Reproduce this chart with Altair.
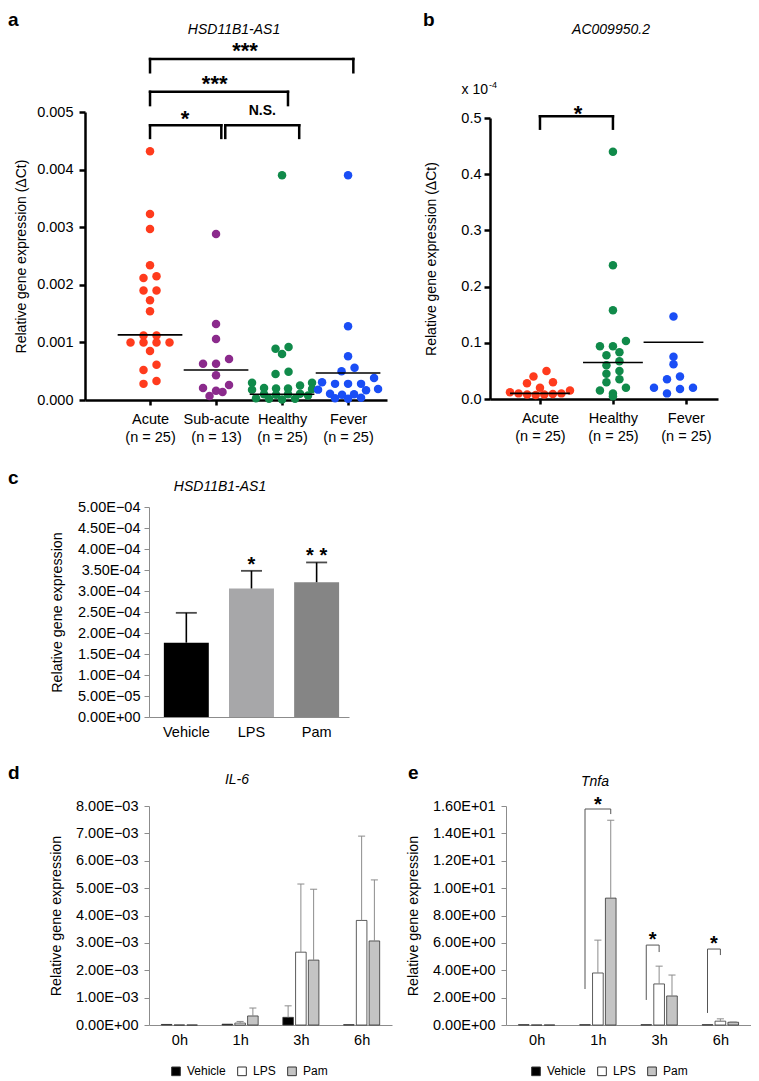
import json
import altair as alt
import pandas as pd

FONT = "Liberation Sans"
GRAY = "#8c8c8c"

# ---------------- data ----------------
# panel a
a_title = "HSD11B1-AS1"
a_groups = ["Acute", "Sub-acute", "Healthy", "Fever"]
a_counts = ["(n = 25)", "(n = 13)", "(n = 25)", "(n = 25)"]
a_colors = ["#ff3b1d", "#8b2a8c", "#108a4a", "#1a4ef5"]
a_columns = [0.0, 1.0, 2.0, 3.0]
a_acute = [0.00432, 0.00323, 0.00297, 0.00234, 0.00215, 0.00212, 0.00190, 0.00190,
           0.00173, 0.00154, 0.00112, 0.00112, 0.00100, 0.00100, 0.00100, 0.00100,
           0.00085, 0.00061, 0.00052, 0.00033, 0.00028]
a_subacute = [0.00288, 0.00132, 0.00106, 0.00071, 0.00063, 0.00063, 0.00043, 0.00026,
              0.00021, 0.00016, 0.00014, 0.00007]
a_healthy = [0.00390, 0.00092, 0.00089, 0.00080, 0.00049, 0.00045, 0.00030, 0.00030,
             0.00025, 0.00021, 0.00020, 0.00019, 0.00020, 0.00018, 0.00011, 0.00010,
             0.00009, 0.00010, 0.00008, 0.00003, 0.00002, 0.00002, 0.00001]
a_fever = [0.00390, 0.00128, 0.00076, 0.00056, 0.00050, 0.00038, 0.00031, 0.00028,
           0.00028, 0.00028, 0.00019, 0.00018, 0.00017, 0.00011, 0.00010, 0.00009,
           0.00004, 0.00003, 0.00002]
a_medians = [0.00113, 0.00052, 0.00010, 0.00047]
a_ticks = [0.0, 0.001, 0.002, 0.003, 0.004, 0.005]
a_br_left = [0.0, 0.0, 0.0, 1.14]
a_br_right = [3.08, 2.09, 1.08, 2.26]
a_br_top = [0.00592, 0.00535, 0.00477, 0.00477]
a_br_drop = [0.00569, 0.00512, 0.00455, 0.00455]
a_br_text = ["***", "***", "*", "N.S."]
a_br_text_x = [1.44, 0.98, 0.53, 1.70]
a_br_text_y = [0.00615, 0.00557, 0.00497, 0.00502]

# panel b (x 10^-4)
b_title = "AC009950.2"
b_groups = ["Acute", "Healthy", "Fever"]
b_counts = ["(n = 25)", "(n = 25)", "(n = 25)"]
b_columns = [0.0, 1.0, 1.83]
b_acute = [0.050, 0.040, 0.030, 0.028, 0.020, 0.015, 0.012, 0.010, 0.010, 0.009,
           0.008, 0.008, 0.007]
b_healthy = [0.440, 0.238, 0.158, 0.103, 0.094, 0.094, 0.083, 0.078, 0.067, 0.060,
             0.050, 0.045, 0.035, 0.030, 0.020, 0.015, 0.010, 0.005]
b_fever = [0.147, 0.075, 0.062, 0.040, 0.035, 0.020, 0.020, 0.018, 0.010]
b_medians = [0.010, 0.065, 0.101]
b_ticks = [0.0, 0.1, 0.2, 0.3, 0.4, 0.5]
b_br_left = [0.0]
b_br_right = [1.0]
b_br_top = [0.503]
b_br_drop = [0.481]
b_br_text = ["*"]
b_br_text_x = [0.52]
b_br_text_y = [0.517]

# panel c
c_title = "HSD11B1-AS1"
c_conditions = ["Vehicle", "LPS", "Pam"]
c_means = [1.77e-4, 3.06e-4, 3.21e-4]
c_sds = [0.71e-4, 0.42e-4, 0.47e-4]
c_colors = ["#000000", "#a7a7a9", "#858585"]
c_stars = ["", "*", "* *"]
c_tick_labels = ["0.00E+00", "5.00E−05", "1.00E−04", "1.50E−04", "2.00E−04", "2.50E−04",
                 "3.00E−04", "3.50E-04", "4.00E−04", "4.50E−04", "5.00E−04"]

# panels d and e
times = ["0h", "1h", "3h", "6h"]
treatments = ["Vehicle", "LPS", "Pam"]
treat_fills = ["#000000", "#ffffff", "#c4c4c4"]

d_title = "IL-6"
d_vehicle = [0.02e-3, 0.03e-3, 0.28e-3, 0.01e-3]
d_lps = [0.0, 0.07e-3, 2.66e-3, 3.82e-3]
d_pam = [0.0, 0.33e-3, 2.37e-3, 3.07e-3]
d_vehicle_sd = [0.0, 0.0, 0.42e-3, 0.0]
d_lps_sd = [0.0, 0.06e-3, 2.49e-3, 3.08e-3]
d_pam_sd = [0.0, 0.29e-3, 2.59e-3, 2.23e-3]
d_tick_labels = ["0.00E+00", "1.00E−03", "2.00E−03", "3.00E−03", "4.00E−03",
                 "5.00E−03", "6.00E−03", "7.00E−03", "8.00E−03"]

e_title = "Tnfa"
e_vehicle = [0.02, 0.02, 0.02, 0.02]
e_lps = [0.0, 3.80, 3.00, 0.28]
e_pam = [0.0, 9.27, 2.12, 0.20]
e_vehicle_sd = [0.0, 0.0, 0.0, 0.0]
e_lps_sd = [0.0, 2.40, 1.30, 0.17]
e_pam_sd = [0.0, 5.69, 1.53, 0.02]
e_tick_labels = ["0.00E+00", "2.00E+00", "4.00E+00", "6.00E+00", "8.00E+00",
                 "1.00E+01", "1.20E+01", "1.40E+01", "1.60E+01"]
e_br_time = [1, 2, 3]
e_br_from = ["Vehicle", "Vehicle", "Vehicle"]
e_br_to = ["Pam", "LPS", "LPS"]
e_br_from_low = [2.63, 1.83, 0.88]
e_br_top = [15.78, 5.84, 5.55]
e_br_to_low = [15.41, 5.33, 5.11]
e_br_star = [16.43, 6.57, 6.28]

# ---------------- helpers ----------------
bold_axis = dict(domainColor="black", domainWidth=2.5, tickColor="black", tickWidth=2.5,
                 labelColor="black", labelFont=FONT, labelFontSize=14.5, titleFont=FONT,
                 titleFontSize=14, titleFontWeight="normal", titleColor="black", grid=False)
thin_axis = dict(domainColor=GRAY, domainWidth=1, tickColor=GRAY, tickWidth=1,
                 labelColor="black", labelFont=FONT, labelFontSize=14.5, titleFont=FONT,
                 titleFontSize=14.3, titleFontWeight="normal", titleColor="black", grid=False,
                 labelOverlap=False)


def swarm(vals, gx, px_per_val, px_per_unit, thresh=6.0, step=13.0, maxw=60.0):
    rows = []
    for v in sorted(vals, reverse=True):
        if rows and (rows[-1][0] - v) * px_per_val <= thresh:
            rows[-1].append(v)
        else:
            rows.append([v])
    out = []
    for row in rows:
        n = len(row)
        sp = step if n < 2 else min(step, maxw / (n - 1))
        slots = sorted([i - (n - 1) / 2 for i in range(n)], key=lambda t: (abs(t), t))
        for v, sl in zip(sorted(row), slots):
            out.append({"x": gx + sl * sp / px_per_unit, "y": v})
    return out


def txt(t, x, y, size, weight="normal", style="normal", align="left", baseline="alphabetic"):
    return alt.Chart(pd.DataFrame({"t": [t]})).mark_text(
        font=FONT, fontSize=size, fontWeight=weight, fontStyle=style, align=align,
        baseline=baseline, color="black").encode(x=alt.value(x), y=alt.value(y), text="t:N")


def segs_from_brackets(lefts, rights, tops, drops_l, drops_r):
    s = []
    for x1, x2, t, d1, d2 in zip(lefts, rights, tops, drops_l, drops_r):
        s.append({"x": x1, "x2": x2, "y": t, "y2": t})
        s.append({"x": x1, "x2": x1, "y": d1, "y2": t})
        s.append({"x": x2, "x2": x2, "y": d2, "y2": t})
    return pd.DataFrame(s)


def dot_panel(groups, counts, columns, series, medians, ymax, ticks, yfmt, W, H, xrange,
              yrange, xdom, ytitle, pads, brackets, letter, letter_xy, title, title_xy,
              extra=None, half=0.49):
    px_unit = (xrange[1] - xrange[0]) / (xdom[1] - xdom[0])
    px_val = (yrange[0] - yrange[1]) / ymax
    pts = []
    for g, gx, vals in zip(groups, columns, series):
        for p in swarm(vals, gx, px_val, px_unit):
            p["group"] = g
            pts.append(p)
    pts = pd.DataFrame(pts)
    lab = (f"[{json.dumps(groups)}[datum.value], {json.dumps(counts)}[datum.value]]")
    X = alt.X("x:Q", scale=alt.Scale(domain=xdom, range=xrange, nice=False, zero=False),
              axis=alt.Axis(values=list(range(len(groups))), labelExpr=lab, title=None,
                            tickSize=5, labelPadding=7, labelLineHeight=18, **bold_axis))
    Y = alt.Y("y:Q", scale=alt.Scale(domain=[0, ymax], range=yrange, nice=False),
              axis=alt.Axis(values=ticks, format=yfmt, title=ytitle, tickSize=6,
                            offset=-xrange[0], labelPadding=pads[0], titlePadding=pads[1],
                            **bold_axis))
    color = alt.Color("group:N", scale=alt.Scale(domain=a_groups, range=a_colors), legend=None)
    points = alt.Chart(pts).mark_circle(size=72, opacity=1).encode(x=X, y=Y, color=color)
    med = pd.DataFrame({"x": [c - half for c in columns],
                        "x2": [c + half for c in columns], "y": medians})
    medl = alt.Chart(med).mark_rule(color="black", strokeWidth=1.6).encode(x=X, x2="x2:Q", y=Y)
    bl, br, bt, bd, btxt, btx, bty = brackets
    seg = segs_from_brackets(bl, br, bt, bd, bd)
    brk = alt.Chart(seg).mark_rule(color="black", strokeWidth=2.5, strokeCap="square").encode(
        x=X, x2="x2:Q", y=Y, y2="y2:Q")
    st = pd.DataFrame({"x": btx, "y": bty, "t": btxt})
    stars = alt.Chart(st).transform_filter("datum.t != 'N.S.'").mark_text(
        font=FONT, fontSize=22, fontWeight="bold", baseline="alphabetic", dy=12.3,
        color="black").encode(x=X, y=Y, text="t:N")
    ns = alt.Chart(st).transform_filter("datum.t == 'N.S.'").mark_text(
        font=FONT, fontSize=14, fontWeight="bold", baseline="middle", color="black").encode(
        x=X, y=Y, text="t:N")
    layers = [points, medl, brk, stars, ns,
              txt(letter, letter_xy[0], letter_xy[1], 19, weight="bold", baseline="top"),
              txt(title, title_xy[0], title_xy[1], 14, style="italic", align="center")]
    if extra:
        layers += extra
    return alt.layer(*layers).properties(width=W, height=H)


# ---------------- panel a ----------------
a_chart = dot_panel(
    a_groups, a_counts, a_columns, [a_acute, a_subacute, a_healthy, a_fever], a_medians, 0.005,
    a_ticks, ".3f", 238, 288, [-64, 238], [288, 0], [-0.985, 3.59],
    "Relative gene expression (ΔCt)", (6, 8),
    (a_br_left, a_br_right, a_br_top, a_br_drop, a_br_text, a_br_text_x, a_br_text_y),
    "a", (-141, -101), a_title, (85, -78))

# ---------------- panel b ----------------
b_extra = [txt("x 10", -18, -18, 14, align="right"), txt("-4", -17, -24, 9, align="left")]
b_chart = dot_panel(
    b_groups, b_counts, b_columns, [b_acute, b_healthy, b_fever], b_medians, 0.5,
    b_ticks, ".1f", 212, 287, [-16, 212], [287, 6], [-0.685, 2.44],
    "Relative gene expression (ΔCt)", (3, 22),
    (b_br_left, b_br_right, b_br_top, b_br_drop, b_br_text, b_br_text_x, b_br_text_y),
    "b", (-83, -101), b_title, (105, -78), extra=b_extra, half=0.41)

# ---------------- panel c ----------------
C_TOP = 18
c_df = pd.DataFrame({"cond": c_conditions, "mean": c_means,
                     "top": [m + s for m, s in zip(c_means, c_sds)],
                     "color": c_colors, "star": c_stars})
c_step = 5e-5
c_lab = f"{json.dumps(c_tick_labels, ensure_ascii=False)}[round(datum.value / {c_step})]"
cX = alt.X("cond:N", sort=c_conditions,
           scale=alt.Scale(paddingInner=0.31, paddingOuter=0.19, align=0.6),
           axis=alt.Axis(title=None, labelAngle=0, ticks=False, tickSize=0, labelPadding=8,
                         **thin_axis))


def cY(f):
    return alt.Y(f"{f}:Q", scale=alt.Scale(domain=[0, 5e-4], range=[210 + C_TOP, C_TOP],
                                           nice=False),
                 axis=alt.Axis(values=[i * c_step for i in range(11)], labelExpr=c_lab,
                               title="Relative gene expression", tickSize=5, labelPadding=4,
                               titlePadding=13, **thin_axis))


c_base = alt.Chart(c_df)
c_bars = c_base.mark_bar().encode(x=cX, y=cY("mean"), fill=alt.Fill("color:N", scale=None))
c_err = c_base.mark_rule(color="black", strokeWidth=1.6).encode(x=cX, y=cY("mean"), y2="top:Q")
c_cap = c_base.mark_tick(color="black", size=21, thickness=1.8).encode(x=cX, y=cY("top"))
c_st = c_base.mark_text(font=FONT, fontSize=20, fontWeight="bold", baseline="alphabetic",
                        dy=0, color="black").encode(x=cX, y=cY("top"), text="star:N")
c_chart = alt.layer(
    c_bars, c_err, c_cap, c_st,
    txt("c", -141, -38 + C_TOP, 19, weight="bold", baseline="top"),
    txt(c_title, 71, -16 + C_TOP, 14, style="italic", align="center"),
).properties(width=200, height=210 + C_TOP)

# ---------------- panels d / e ----------------
OFF = {"Vehicle": -0.21, "LPS": 0.0, "Pam": 0.21}
HALF = 0.087
CAP = 0.058
XSC = alt.Scale(domain=[-0.5, 3.5], nice=False, zero=False)


def grouped_df(means, sds):
    rows = []
    for tr, m_list, s_list in zip(treatments, means, sds):
        for ti, (m, s) in enumerate(zip(m_list, s_list)):
            xc = ti + OFF[tr]
            rows.append({"treatment": tr, "xc": xc, "x": xc - HALF, "x2": xc + HALF,
                         "cl": xc - CAP, "cr": xc + CAP, "mean": m, "zero": 0.0,
                         "top": m + s, "sd": s})
    return pd.DataFrame(rows)


def bar_panel(df, ymax, step, labels, W, H, letter, letter_xy, title, title_xy, legend_x,
              brackets=None):
    lab = f"{json.dumps(labels, ensure_ascii=False)}[round(datum.value / {step})]"
    X = alt.X("x:Q", scale=XSC,
              axis=alt.Axis(values=[0, 1, 2, 3], labelExpr=f"{json.dumps(times)}[datum.value]",
                            title=None, ticks=False, tickSize=0, labelPadding=8, **thin_axis))

    def Y(f):
        return alt.Y(f"{f}:Q", scale=alt.Scale(domain=[0, ymax], nice=False),
                     axis=alt.Axis(values=[i * step for i in range(len(labels))], labelExpr=lab,
                                   title="Relative gene expression", tickSize=5, labelPadding=6,
                                   titlePadding=12, **thin_axis))

    base = alt.Chart(df)
    bars = base.mark_bar(stroke="#333333", strokeWidth=0.8).encode(
        x=X, x2="x2:Q", y=Y("mean"), y2="zero:Q",
        fill=alt.Fill("treatment:N", scale=alt.Scale(domain=treatments, range=treat_fills),
                      legend=alt.Legend(title=None, orient="none", legendX=legend_x,
                                        legendY=259, direction="horizontal", symbolType="square",
                                        symbolSize=75, symbolStrokeColor="#333333",
                                        symbolStrokeWidth=1, labelFont=FONT, labelFontSize=12,
                                        labelColor="black", columnPadding=9, labelOffset=5)))
    errb = base.transform_filter("datum.sd > 0")
    err = errb.mark_rule(color=GRAY, strokeWidth=1).encode(
        x=alt.X("xc:Q", scale=XSC), y=Y("mean"), y2="top:Q")
    cap = errb.mark_rule(color=GRAY, strokeWidth=1).encode(
        x=alt.X("cl:Q", scale=XSC), x2="cr:Q", y=Y("top"))
    layers = [bars, err, cap]
    if brackets is not None:
        seg, stars = brackets
        layers.append(alt.Chart(seg).mark_rule(color="#555555", strokeWidth=1).encode(
            x=alt.X("x:Q", scale=XSC), x2="x2:Q", y=Y("y"), y2="y2:Q"))
        layers.append(alt.Chart(stars).mark_text(
            font=FONT, fontSize=20, fontWeight="bold", baseline="alphabetic", dy=11.2,
            color="black").encode(x=alt.X("x:Q", scale=XSC), y=Y("y"), text="t:N"))
    layers += [txt(letter, letter_xy[0], letter_xy[1], 19, weight="bold", baseline="top"),
               txt(title, title_xy[0], title_xy[1], 14, style="italic", align="center")]
    return alt.layer(*layers).properties(width=W, height=H)


d_df = grouped_df([d_vehicle, d_lps, d_pam], [d_vehicle_sd, d_lps_sd, d_pam_sd])
e_df = grouped_df([e_vehicle, e_lps, e_pam], [e_vehicle_sd, e_lps_sd, e_pam_sd])

e_l = [t + OFF[f] for t, f in zip(e_br_time, e_br_from)]
e_r = [t + OFF[g] for t, g in zip(e_br_time, e_br_to)]
e_seg = segs_from_brackets(e_l, e_r, e_br_top, e_br_from_low, e_br_to_low)
e_stars = pd.DataFrame({"x": [(a + b) / 2 for a, b in zip(e_l, e_r)], "y": e_br_star,
                        "t": ["*"] * len(e_br_star)})

d_chart = bar_panel(d_df, 8e-3, 1e-3, d_tick_labels, 243, 219, "d", (-141, -42), d_title,
                    (88, -22), 21)
e_chart = bar_panel(e_df, 16, 2, e_tick_labels, 245, 219, "e", (-98, -42), e_title,
                    (89, -20), 24, brackets=(e_seg, e_stars))

empty = alt.Chart(pd.DataFrame({"v": [0]})).mark_point(opacity=0).encode(
    x=alt.value(0), y=alt.value(0)).properties(width=1, height=1)

chart = alt.concat(a_chart, b_chart, c_chart, empty, d_chart, e_chart, columns=2,
                   bounds="flush", align="each",
                   spacing=alt.RowColnumber(row=89, column=114)).resolve_scale(
    fill="independent", color="independent").properties(
    padding={"top": 3, "left": 0, "right": 0, "bottom": 0})
chart = chart.configure_view(stroke=None)

chart.save("out.html", embed_options={"renderer": "svg", "actions": False})
